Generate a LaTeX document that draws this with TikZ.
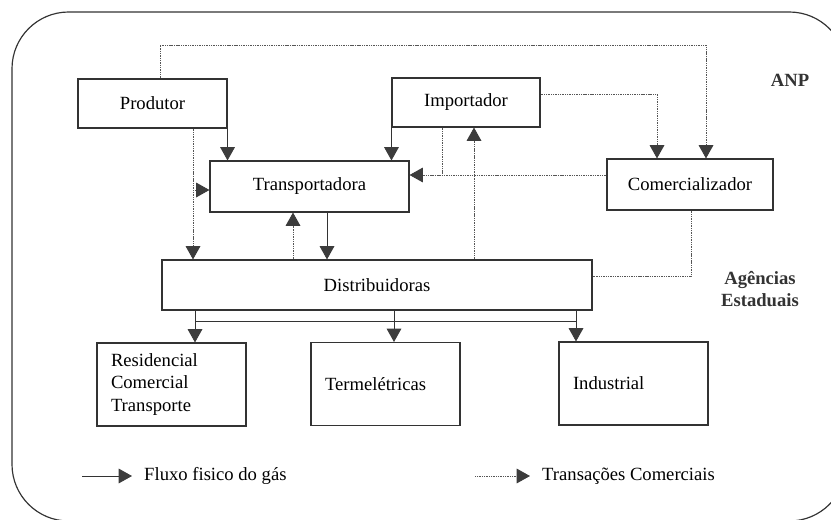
\documentclass[tikz,border=0pt]{standalone}
\usepackage{fontspec}
\setmainfont{Liberation Serif}
\usetikzlibrary{arrows.meta,positioning}
\definecolor{LineGray}{HTML}{333333}
\definecolor{DotGray}{HTML}{555555}
\definecolor{HeadGray}{HTML}{3C3C3C}
\newcommand{\diagfont}{\fontsize{15.9}{18.8}\selectfont}

\begin{document}
\begin{tikzpicture}[x=0.3mm, y=-0.3mm,
      box/.style={draw=LineGray, line width=0.9pt, inner sep=0pt, align=center, font=\diagfont},
      lowbox/.style={box, align=left, text width=36.3mm, inner xsep=4.2mm, minimum height=24.9mm},
      tag/.style={font=\diagfont\bfseries, align=center, text=LineGray},
      flow/.style={draw=LineGray, line width=0.8pt, -{Triangle[width=4.4mm, length=4mm, color=HeadGray]}},
      trade/.style={draw=DotGray, line width=0.8pt, dash pattern=on 0.9pt off 0.6pt,
                    -{Triangle[width=4.4mm, length=4mm, color=HeadGray]}},
      tradeline/.style={trade, -}
    ]
  \clip (0,0) rectangle (831,519);
  \draw[LineGray, line width=1pt, rounded corners=17mm] (12,12) rectangle (846,521);

  % agentes
  \node[box, minimum width=44.7mm, minimum height=14.7mm] (prod) at (152.5,103.5) {Produtor};
  \node[box, minimum width=44.4mm, minimum height=14.7mm] (imp) at (466,102.5) {Importador};
  \node[box, minimum width=59.7mm, minimum height=15.3mm] (transp) at (309.5,186.5) {Transportadora};
  \node[box, minimum width=49.8mm, minimum height=15.3mm] (comerc) at (690,184.5) {Comercializador};
  \node[box, minimum width=129mm, minimum height=15mm] (dist) at (377,285) {Distribuidoras};

  % consumidores
  \node[lowbox] (resid) at (171.5,384.5) {Residencial\\Comercial\\Transporte};
  \node[lowbox] (termo) at (385.5,384) {Termelétricas};
  \node[lowbox] (indus) at (633.5,383.5) {Industrial};

  % reguladores
  \node[tag] (anp) at (790,80) {ANP};
  \node[tag] (agen) at (760,289) {Agências\\Estaduais};

  % fluxo fisico
  \draw[flow] (prod.south east) -- (prod.south east |- transp.north);
  \draw[flow] (imp.south west) -- (imp.south west |- transp.north);
  \draw[flow] (327,0 |- transp.south) -- (327,0 |- dist.north);
  \coordinate (busL) at (195,321);
  \coordinate (busR) at (576,321);
  \draw[LineGray, line width=0.8pt] (busL) -- (busR);
  \draw[flow] (busL |- dist.south) -- (busL |- resid.north);
  \draw[flow] (394,0 |- dist.south) -- (394,0 |- termo.north);
  \draw[flow] (busR |- dist.south) -- (busR |- indus.north);

  % transacoes comerciais
  \draw[trade] (160,0 |- prod.north) |- (706,45) -- (706,0 |- comerc.north);
  \draw[trade] (imp.east |- 0,94) -| (657,0 |- comerc.north);
  \coordinate (jn) at (442,175);
  \draw[trade] (comerc.west |- jn) -- (transp.east |- jn);
  \draw[tradeline] (442,0 |- imp.south) -- (jn);
  \draw[trade] (474,0 |- dist.north) -- (474,0 |- imp.south);
  \draw[trade] (293,0 |- dist.north) -- (293,0 |- transp.south);
  \draw[trade] (193,0 |- prod.south) -- (193,0 |- dist.north);
  \coordinate (br) at (193,190);
  \draw[trade] (br) -- (transp.west |- br);
  \draw[tradeline] (691,0 |- comerc.south) |- (dist.east |- 0,276);

  % legenda
  \coordinate (lf) at (82,476);
  \coordinate (lt) at (475,476);
  \node[anchor=west, inner sep=0pt, font=\diagfont] (lfx) at (144,476) {Fluxo fisico do gás};
  \node[anchor=west, inner sep=0pt, font=\diagfont] (ltx) at (542,476) {Transações Comerciais};
  \draw[flow] (lf) -- (132,476);
  \draw[trade] (lt) -- (530,476);
\end{tikzpicture}
\end{document}
